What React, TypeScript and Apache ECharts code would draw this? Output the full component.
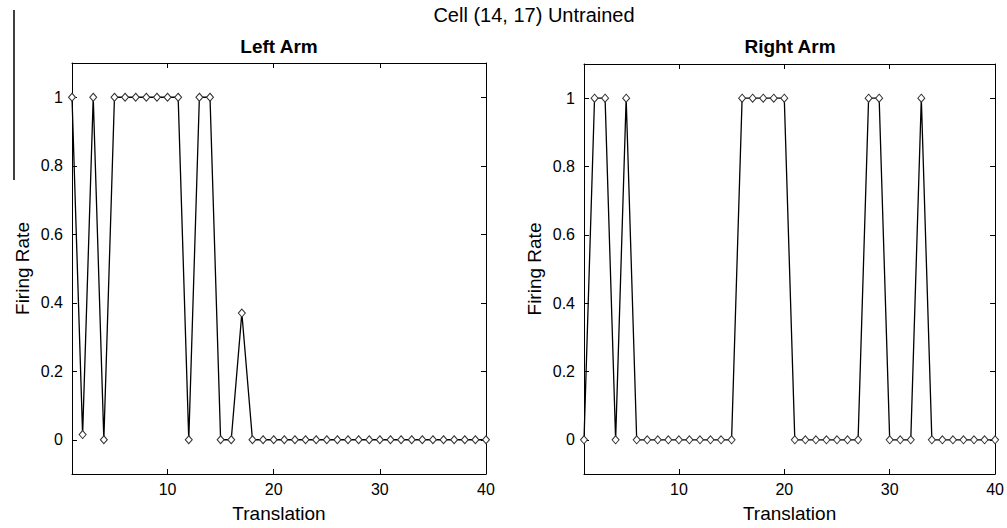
import React, { useEffect, useRef } from "react";
import * as echarts from "echarts";

const translation = [1, 2, 3, 4, 5, 6, 7, 8, 9, 10, 11, 12, 13, 14, 15, 16, 17, 18, 19, 20, 21, 22, 23, 24, 25, 26, 27, 28, 29, 30, 31, 32, 33, 34, 35, 36, 37, 38, 39, 40];
const leftArm = [1, 0.015, 1, 0, 1, 1, 1, 1, 1, 1, 1, 0, 1, 1, 0, 0, 0.37, 0, 0, 0, 0, 0, 0, 0, 0, 0, 0, 0, 0, 0, 0, 0, 0, 0, 0, 0, 0, 0, 0, 0];
const rightArm = [0, 1, 1, 0, 1, 0, 0, 0, 0, 0, 0, 0, 0, 0, 0, 1, 1, 1, 1, 1, 0, 0, 0, 0, 0, 0, 0, 1, 1, 0, 0, 0, 1, 0, 0, 0, 0, 0, 0, 0];
const xTicks = [10, 20, 30, 40];
const yTicks = [0, 0.2, 0.4, 0.6, 0.8, 1];
const yTickLabels = ["0", "0.2", "0.4", "0.6", "0.8", "1"];
const suptitle = "Cell (14, 17) Untrained";
const panelTitles = ["Left Arm", "Right Arm"];
const xName = "Translation";
const yName = "Firing Rate";

const FONT = "'Liberation Sans', Arial, Helvetica, sans-serif";

export default function App() {
  const ref = useRef<HTMLDivElement>(null);
  useEffect(() => {
    if (!ref.current) return;
    const chart = echarts.init(ref.current, undefined, { renderer: "svg" });
    const line = { lineStyle: { color: "#000", width: 1 } };
    const xAxes: any[] = [];
    const yAxes: any[] = [];
    [0, 1].forEach((g) => {
      xAxes.push({
        type: "value", gridIndex: g, min: 1, max: 40, position: "bottom",
        axisLine: { show: true, ...line, onZero: false },
        axisTick: { show: true, inside: true, length: 5, customValues: xTicks, ...line },
        axisLabel: { customValues: xTicks, formatter: (v: number) => String(v), color: "#000", fontSize: 16, fontFamily: FONT, margin: 7 },
        splitLine: { show: false },
        name: xName, nameLocation: "middle", nameGap: 30,
        nameTextStyle: { color: "#000", fontSize: 19, fontFamily: FONT },
      });
      xAxes.push({
        type: "value", gridIndex: g, min: 1, max: 40, position: "top",
        axisLine: { show: true, ...line, onZero: false },
        axisTick: { show: true, inside: true, length: 5, customValues: xTicks, ...line },
        axisLabel: { show: false },
        splitLine: { show: false },
      });
      yAxes.push({
        type: "value", gridIndex: g, min: -0.1, max: 1.1, position: "left",
        axisLine: { show: true, ...line, onZero: false },
        axisTick: { show: true, inside: true, length: 5, customValues: yTicks, ...line },
        axisLabel: {
          customValues: yTicks,
          formatter: (v: number) => { const i = yTicks.indexOf(v); return i >= 0 ? yTickLabels[i] : String(v); },
          color: "#000", fontSize: 16, fontFamily: FONT, margin: 9,
        },
        splitLine: { show: false },
        name: yName, nameLocation: "middle", nameGap: 40, nameRotate: 90,
        nameTextStyle: { color: "#000", fontSize: 19, fontFamily: FONT },
      });
      yAxes.push({
        type: "value", gridIndex: g, min: -0.1, max: 1.1, position: "right",
        axisLine: { show: true, ...line, onZero: false },
        axisTick: { show: true, inside: true, length: 5, customValues: yTicks, ...line },
        axisLabel: { show: false },
        splitLine: { show: false },
      });
    });
    const mkSeries = (g: number, vals: number[]) => ({
      type: "line",
      xAxisIndex: g * 2,
      yAxisIndex: g * 2,
      data: translation.map((x, i) => [x, vals[i]]),
      symbol: "diamond",
      symbolSize: [7, 8],
      showSymbol: true,
      showAllSymbol: true,
      clip: false,
      lineStyle: { color: "#000", width: 1.3 },
      itemStyle: { color: "#fff", borderColor: "#333", borderWidth: 1 },
      emphasis: { disabled: true },
      z: 3,
    });
    chart.setOption({
      animation: false,
      backgroundColor: "#fff",
      grid: [
        { left: 72, top: 63, width: 414, height: 412 },
        { left: 584, top: 64, width: 413, height: 412 },
      ],
      xAxis: xAxes,
      yAxis: yAxes,
      series: [mkSeries(0, leftArm), mkSeries(1, rightArm)],
      graphic: [
        { type: "text", x: 534, y: 15, style: { text: suptitle, align: "center", verticalAlign: "middle", fill: "#000", font: `20px ${FONT}` } },
        { type: "text", x: 279, y: 46, style: { text: panelTitles[0], align: "center", verticalAlign: "middle", fill: "#000", font: `bold 19px ${FONT}` } },
        { type: "text", x: 790, y: 46, style: { text: panelTitles[1], align: "center", verticalAlign: "middle", fill: "#000", font: `bold 19px ${FONT}` } },
        { type: "line", shape: { x1: 14, y1: 10, x2: 14, y2: 180 }, style: { stroke: "#000", lineWidth: 1.5 } },
      ],
    });
    return () => chart.dispose();
  }, []);
  return <div ref={ref} style={{ position: "fixed", left: 0, top: 0, width: 1007, height: 528, background: "#fff" }} />;
}
